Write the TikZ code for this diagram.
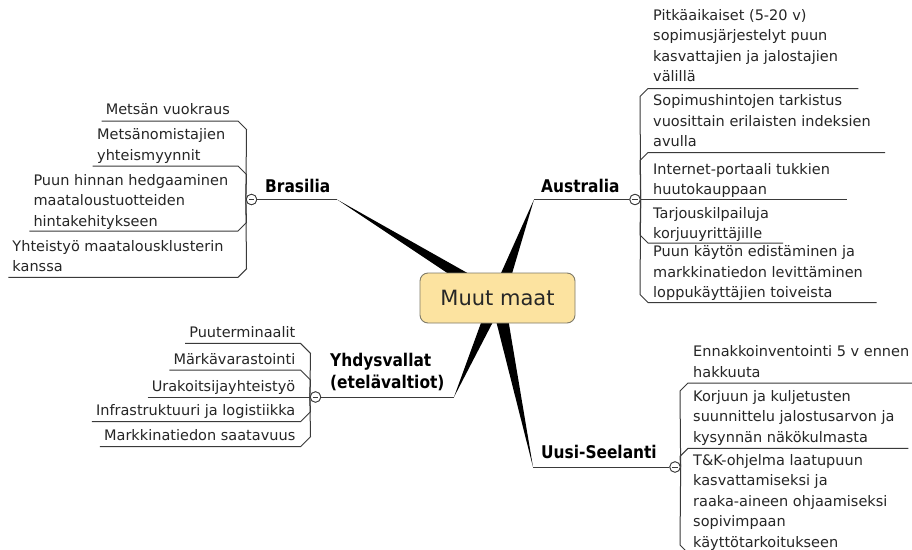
\documentclass[tikz,border=0pt]{standalone}
\usepackage{fontspec}
\setmainfont{DejaVu Sans}
\newfontfamily\branchfont{DejaVu Sans}[FakeStretch=0.88]
\usetikzlibrary{calc}
\definecolor{boxfill}{HTML}{FCE3A0}
\definecolor{boxline}{HTML}{7F7A68}
\definecolor{linkgray}{HTML}{3A3A3A}
\definecolor{kidtext}{HTML}{262626}
\newcommand\kidfont{\fontsize{14.5}{20.5}\selectfont}
\newcommand\kidlines[1]{\begin{tabular}[t]{@{}l@{}}#1\end{tabular}}
\tikzset{
  kid/.style={font=\kidfont, text=kidtext, inner xsep=4pt, inner ysep=0pt},
  branch/.style={font=\branchfont\bfseries\fontsize{17.5}{22}\selectfont, text=black, inner sep=0pt},
  link/.style={draw=linkgray, line width=1pt, line join=round},
  wedge/.style={fill=black},
  toggle/.style={circle, draw=linkgray, fill=white, line width=0.8pt, minimum size=10.5pt, inner sep=0pt,
    path picture={\draw[linkgray, line width=0.9pt]
      ([xshift=-2.6pt]path picture bounding box.center) -- ([xshift=2.6pt]path picture bounding box.center);}},
  hub/.style={rounded corners=8pt, draw=boxline, fill=boxfill, line width=0.9pt,
    minimum width=155pt, minimum height=50pt, inner sep=0pt,
    font=\fontsize{21}{25}\selectfont, text=black!85}
}
\begin{document}
\begin{tikzpicture}[x=1pt, y=-1pt]
\useasboundingbox (0,0) rectangle (912,549);
\fill[white] (0,0) rectangle (912,549);

% ---------- hub position and branch ends ----------
\coordinate (hubc) at (497.5,298);
\coordinate (brT) at (337,199.5);
\coordinate (auT) at (534,199.5);
\coordinate (yhT) at (454,397);
\coordinate (usT) at (533,467);

% tapered spokes, drawn under the hub
\foreach \t in {brT,auT,yhT,usT}{
  \fill[wedge] (\t) -- ($(hubc)!7pt!90:(\t)$) -- ($(hubc)!7pt!-90:(\t)$) -- cycle;
}
\node[hub] (hub) at (hubc) {Muut maat};

% ---------- collapse toggles ----------
\node[toggle] (brC) at (251.5,199.5) {};
\node[toggle] (auC) at (635,199.5) {};
\node[toggle] (yhC) at (315.5,397) {};
\node[toggle] (usC) at (675,467) {};

% ---------- branch labels ----------
\node[branch, anchor=base west] (br) at (265,192) {Brasilia};
\node[branch, anchor=base west] (au) at (541,192) {Australia};
\node[branch, anchor=base west] (yh) at (330,366)
  {\begin{tabular}[t]{@{}l@{}}Yhdysvallat\\(etelävaltiot)\end{tabular}};
\node[branch, anchor=base west] (us) at (541,458) {Uusi-Seelanti};

\draw[link] (brC.east) -- (brT);
\draw[link] (auT) -- (auC.west);
\draw[link] (yhC.east) -- (yhT);
\draw[link] (usT) -- (usC.west);

% ---------- Brasilia ----------
\node[kid, anchor=base east] (br1) at (234,114) {Metsän vuokraus};
\node[kid, anchor=base west] (br2) at (93,139.5) {\kidlines{Metsänomistajien\\yhteismyynnit}};
\node[kid, anchor=base west] (br3) at (29.3,185) {\kidlines{Puun hinnan hedgaaminen\\maataloustuotteiden\\hintakehitykseen}};
\node[kid, anchor=base west] (br4) at (8.3,251) {\kidlines{Yhteistyö maatalousklusterin\\kanssa}};
\coordinate (br1R) at (238,121);
\coordinate (br2L) at (92.7,166);   \coordinate (br2R) at (238,166);
\coordinate (br3L) at (29.3,231);   \coordinate (br3R) at (238,231);
\coordinate (br4L) at (8.3,277.3);  \coordinate (br4R) at (238,277.3);
\draw[link] (br1R -| br1.west) -- (br1R) -- ++(8.5,8.5) -- (brC.west);
\draw[link] (br2L) -- (br2R) -- ++(8.5,8.5) -- (brC.west);
\draw[link] (br3L) -- (br3R) -- ++(8.5,-8.5) -- (brC.west);
\draw[link] (br4L) -- (br4R) -- ++(8.5,-8.5) -- (brC.west);

% ---------- Australia ----------
\node[kid, anchor=base west] (au1) at (649,20) {\kidlines{Pitkäaikaiset (5-20 v)\\sopimusjärjestelyt puun\\kasvattajien ja jalostajien\\välillä}};
\node[kid, anchor=base west] (au2) at (649,105.5) {\kidlines{Sopimushintojen tarkistus\\vuosittain erilaisten indeksien\\avulla}};
\node[kid, anchor=base west] (au3) at (649,174) {\kidlines{Internet-portaali tukkien\\huutokauppaan}};
\node[kid, anchor=base west] (au4) at (649,218) {\kidlines{Tarjouskilpailuja\\korjuuyrittäjille}};
\node[kid, anchor=base west] (au5) at (649,256.5) {\kidlines{Puun käytön edistäminen ja\\markkinatiedon levittäminen\\loppukäyttäjien toiveista}};
\coordinate (au1L) at (648,88.5);  \coordinate (au1R) at (858.3,88.5);
\coordinate (au2L) at (648,152.5); \coordinate (au2R) at (885,152.5);
\coordinate (au3R) at (846.7,199.5);
\coordinate (au4L) at (648,243);   \coordinate (au4R) at (783,243);
\coordinate (au5L) at (648,302.5); \coordinate (au5R) at (876.7,302.5);
\draw[link] (au1R) -- (au1L) -- ++(-8,8) -- (auC.east);
\draw[link] (au2R) -- (au2L) -- ++(-8,8) -- (auC.east);
\draw[link] (auC.east) -- (au3R);
\draw[link] (au4R) -- (au4L) -- ++(-8,-8) -- (auC.east);
\draw[link] (au5R) -- (au5L) -- ++(-8,-8) -- (auC.east);

% ---------- Yhdysvallat ----------
\node[kid, anchor=base east] (yh1) at (299.5,337.3) {Puuterminaalit};
\node[kid, anchor=base east] (yh2) at (299.5,364) {Märkävarastointi};
\node[kid, anchor=base east] (yh3) at (299.5,391) {Urakoitsijayhteistyö};
\node[kid, anchor=base east] (yh4) at (299.5,415.7) {Infrastruktuuri ja logistiikka};
\node[kid, anchor=base east] (yh5) at (299.5,440.7) {Markkinatiedon saatavuus};
\coordinate (yh1R) at (300.5,343.3);
\coordinate (yh2R) at (300.5,370);
\coordinate (yh4R) at (300.5,421.7);
\coordinate (yh5R) at (300.5,446.7);
\draw[link] (yh1R -| yh1.west) -- (yh1R) -- ++(10,10) -- (yhC.west);
\draw[link] (yh2R -| yh2.west) -- (yh2R) -- ++(10,10) -- (yhC.west);
\draw[link] (yhC.west -| yh3.west) -- (yhC.west);
\draw[link] (yh4R -| yh4.west) -- (yh4R) -- ++(10,-10) -- (yhC.west);
\draw[link] (yh5R -| yh5.west) -- (yh5R) -- ++(10,-10) -- (yhC.west);

% ---------- Uusi-Seelanti ----------
\node[kid, anchor=base west] (us1) at (689,356.5) {\kidlines{Ennakkoinventointi 5 v ennen\\hakkuuta}};
\node[kid, anchor=base west] (us2) at (689,401.3) {\kidlines{Korjuun ja kuljetusten\\suunnittelu jalostusarvon ja\\kysynnän näkökulmasta}};
\node[kid, anchor=base west] (us3) at (689,465) {\kidlines{T\&K-ohjelma laatupuun\\kasvattamiseksi ja\\raaka-aineen ohjaamiseksi\\sopivimpaan\\käyttötarkoitukseen}};
\coordinate (us1L) at (688,383);   \coordinate (us1R) at (916,383);
\coordinate (us2L) at (688,448.3); \coordinate (us2R) at (908.3,448.3);
\coordinate (us3L) at (688,553);   \coordinate (us3R) at (850,553);
\draw[link] (us1R) -- (us1L) -- ++(-8,8) -- (usC.east);
\draw[link] (us2R) -- (us2L) -- ++(-8,8) -- (usC.east);
\draw[link] (us3R) -- (us3L) -- ++(-8,-8) -- (usC.east);

% toggles on top of the bracket lines
\foreach \c in {brC,auC,yhC,usC}{
  \node[toggle] at (\c) {};
}
\end{tikzpicture}
\end{document}
